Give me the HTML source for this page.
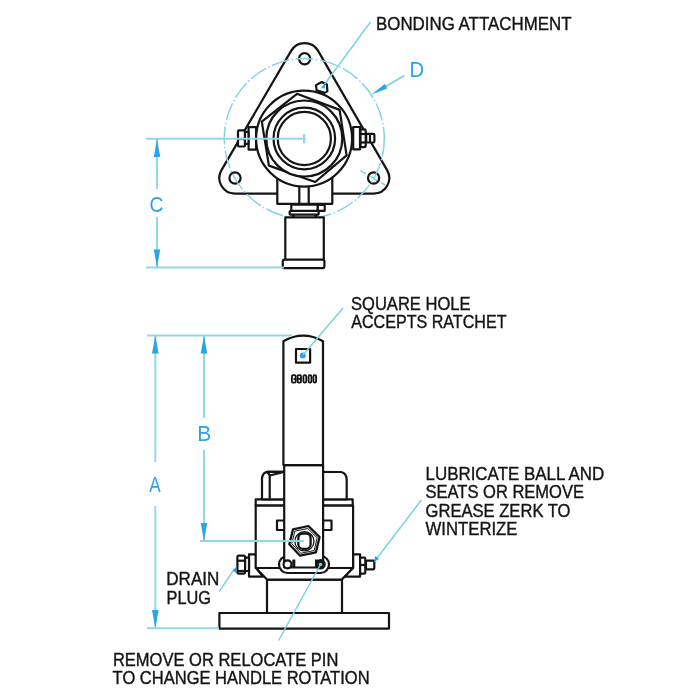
<!DOCTYPE html>
<html><head><meta charset="utf-8">
<style>
html,body{margin:0;padding:0;background:#fff;width:700px;height:700px;overflow:hidden}
svg{display:block;will-change:transform}
text{font-family:"Liberation Sans",sans-serif}
</style></head><body>
<svg width="700" height="700" viewBox="0 0 700 700">
<rect width="700" height="700" fill="#fff"/>

<!-- ============ TOP VIEW ============ -->
<g id="top" fill="#fff" stroke="#141414" stroke-width="2.2" stroke-linejoin="round">
  <!-- flange triangle with rounded corners (circle centres at holes, r=15.6) -->
  <path d="M291.1,50.9 A15.6,15.6 0 0 1 318.1,50.9 L387.1,170.1 A15.6,15.6 0 0 1 373.6,193.6 L235,193.6 A15.6,15.6 0 0 1 221.5,170.1 Z"/>
  <circle cx="304.6" cy="58.8" r="5.6"/>
  <circle cx="235" cy="178" r="5.6"/>
  <circle cx="373.6" cy="178" r="5.6"/>
</g>
<!-- dashed D circle -->
<circle cx="304.3" cy="138.6" r="80" fill="none" stroke="#86d4e2" stroke-width="1.5" stroke-dasharray="18 2.5 1.5 2.5"/>
<g stroke="#86d4e2" stroke-width="1.6" fill="none">
  <line x1="360.3" y1="170.6" x2="366" y2="173.9"/>
  <line x1="369.5" y1="175.9" x2="377.5" y2="180.5"/>
  <line x1="381" y1="182.6" x2="385.7" y2="185.4"/>
</g>
<g fill="#fff" stroke="#141414" stroke-width="2.2" stroke-linejoin="round">
  <!-- bonding tab -->
  <polygon points="316,85.1 321.7,82 326.9,84.6 327.4,91.4 324.6,92.9 316.6,90.3"/>
  <!-- bolts left -->
  <rect x="248.6" y="127.1" width="7.5" height="22.5"/>
  <rect x="244.9" y="131.9" width="3.6" height="12"/>
  <rect x="238" y="130.4" width="6.9" height="16.1" rx="1"/>
  <line x1="237.5" y1="139" x2="244.6" y2="139"/>
  <!-- bolts right -->
  <rect x="353.2" y="127" width="6.8" height="22.3"/>
  <rect x="360.5" y="129.3" width="5.2" height="17.8" rx="1.5"/>
  <line x1="360.5" y1="134" x2="365.7" y2="134"/>
  <line x1="360.5" y1="142.5" x2="365.7" y2="142.5"/>
  <rect x="366.2" y="133.9" width="8.2" height="8.6" rx="1"/>
  <line x1="370" y1="134" x2="370" y2="142.5"/>
  <!-- stem below -->
  <rect x="277.3" y="170" width="55" height="33.8"/>
  <line x1="299.3" y1="180" x2="299.3" y2="203.8"/>
  <line x1="308.7" y1="180" x2="308.7" y2="203.8"/>
  <!-- body circles -->
  <circle cx="304.1" cy="138.6" r="48"/>
  <polygon points="297,93.8 339.6,109.9 346.6,155.4 315.2,182 268.9,165.6 261.8,121.6"/>
  <circle cx="304.3" cy="138.5" r="38"/>
  <circle cx="304.3" cy="138.5" r="30.8"/>
  <circle cx="304.3" cy="138.5" r="26.6"/>
  <!-- lower stem parts -->
  <rect x="291.3" y="204.6" width="26.5" height="6.5"/>
  <rect x="317.8" y="205" width="6.9" height="5.8"/>
  <rect x="292" y="213" width="2.7" height="4.5" fill="#141414" stroke="none"/>
  <rect x="314.4" y="213" width="2.7" height="4.5" fill="#141414" stroke="none"/>
  <rect x="289.6" y="210.9" width="29.1" height="3.8" rx="1.5"/>
  <rect x="285.3" y="217.4" width="38.5" height="43"/>
  <rect x="282.8" y="259.6" width="41.6" height="8.6" rx="2"/>
</g>
<!-- center mark + C dimension -->
<g stroke="#96d6e4" stroke-width="2" fill="none">
  <line x1="146" y1="138.8" x2="306" y2="138.8"/>
  <line x1="304" y1="134" x2="304" y2="143.5"/>
  <line x1="146" y1="267.6" x2="284" y2="267.6"/>
  <line x1="157" y1="139" x2="157" y2="189"/>
  <line x1="157" y1="217" x2="157" y2="267"/>
</g>
<g stroke="#7ad2e0" stroke-width="1.5" fill="none">
  <line x1="370.5" y1="22" x2="321.5" y2="88.5"/>
  <line x1="404.5" y1="75.5" x2="384" y2="87.5"/>
</g>
<g fill="#2aa4e6">
  <polygon points="157,138.8 153.8,157 160.2,157"/>
  <polygon points="157,267.6 153.8,249.4 160.2,249.4"/>
  <polygon points="371.4,94.6 384.8,84.1 387.2,88.5"/>
  <polygon points="325.6,82.5 321.8,87.3 324.5,88.8"/>
</g>
<text transform="translate(149.5,211.8) scale(0.88,1)" font-size="22" fill="#2aa4e6">C</text>
<text transform="translate(409.5,76.5) scale(0.92,1)" font-size="22" fill="#2aa4e6">D</text>

<!-- ============ SIDE VIEW ============ -->
<g fill="#fff" stroke="#141414" stroke-width="2.2" stroke-linejoin="round">
  <!-- base plate + pedestal -->
  <rect x="219.4" y="613" width="169.6" height="15.6"/>
  <rect x="267" y="579.6" width="75" height="33.4"/>
  <!-- body lower chamfer band -->
  <path d="M255.8,568 L353.3,568 L341.7,579.6 L267,579.6 Z"/>
  <!-- bolt bosses -->
  <path d="M249,554.3 L256,554.3 L256,568 L263,576.6 L249,576.6 Z"/>
  <rect x="244.7" y="557.7" width="4.3" height="13.3"/>
  <rect x="237.4" y="555.6" width="7.7" height="18" rx="1.5"/>
  <line x1="237.4" y1="560.7" x2="245.1" y2="560.7"/>
  <line x1="237.4" y1="571" x2="245.1" y2="571"/>
  <path d="M353,554.3 L360.1,554.3 L360.1,576.6 L345,576.6 L353,568 Z"/>
  <rect x="360.1" y="557.7" width="5.2" height="15.9" rx="1"/>
  <line x1="360.1" y1="565" x2="365.3" y2="565"/>
  <rect x="366" y="560.7" width="8.3" height="8.6" rx="1"/>
  <!-- main body -->
  <rect x="255.7" y="505.4" width="97.4" height="62.6"/>
  <!-- band -->
  <rect x="255.7" y="499.4" width="97" height="6"/>
  <!-- upper body -->
  <path d="M262,499.4 L262,478 Q263,472 268,471.6 L341,472 Q346.7,473 346.7,480 L346.7,499.4 Z"/>
  <path d="M269.7,499.4 L269.7,475.5 Q268.5,472.5 266,472" fill="none"/>
  <path d="M269.7,475.5 L285,471.8" fill="none"/>
  <!-- tabs -->
  <rect x="277" y="520.5" width="8.5" height="9.5"/>
  <rect x="323" y="520.5" width="8.5" height="9.5"/>
  <!-- pin plate (behind handle) -->
  <path d="M287.5,556 L320.5,556 A8.5,8.5 0 0 1 320.5,573 L287.5,573 A8.5,8.5 0 0 1 287.5,556 Z"/>
  <!-- handle lower -->
  <rect x="284.2" y="465.1" width="38.9" height="102.4"/>
  <!-- handle upper with arched top -->
  <path d="M283.4,465.1 L283.4,341.3 Q303.2,330 323,341.3 L323,465.1 Z"/>
  <rect x="292.3" y="559.5" width="3" height="8" fill="#141414" stroke="none"/>
  <rect x="315" y="559.5" width="3" height="8" fill="#141414" stroke="none"/>
  <circle cx="287.5" cy="564.3" r="4"/>
  <circle cx="320.5" cy="564.3" r="4.2" fill="#141414"/>
  <!-- hex nut -->
  <polygon points="308.4,526 319.6,537.1 315.9,552.3 300.1,555.7 289.3,544.3 293,529.4" stroke-width="2.3"/>
  <polygon points="307.8,528.5 317.2,537.8 314.2,550.5 300.8,553.3 291.8,543.7 294.8,531.2" fill="none" stroke-width="1"/>
  <circle cx="304.4" cy="541.3" r="9.6" stroke-width="1.3"/>
  <rect x="298.3" y="533.5" width="12.3" height="15.3" rx="4.5" stroke-width="2.3"/>
  <!-- square hole -->
  <rect x="296" y="349" width="14.1" height="13.7"/>
</g>
<g fill="none" stroke="#141414" stroke-width="1.8">
  <rect x="291.9" y="375.2" width="3.8" height="7.4" rx="1.2"/>
  <line x1="293.6" y1="379" x2="295.7" y2="379"/>
  <rect x="297.6" y="375.2" width="3.4" height="7.4" rx="1"/>
  <line x1="297.6" y1="379" x2="301" y2="379"/>
  <rect x="303.4" y="375.2" width="2.9" height="7.4" rx="1.3"/>
  <rect x="308.6" y="375.2" width="2.8" height="7.4" rx="1.3"/>
  <rect x="313.4" y="375.2" width="2.7" height="7.4" rx="1.3"/>
</g>
<circle cx="302.8" cy="355.4" r="3" fill="#2a9ff0"/>
<circle cx="320.5" cy="564.5" r="1.8" fill="#6fcfe8"/>

<!-- dimension lines side view -->
<g stroke="#96d6e4" stroke-width="2" fill="none">
  <line x1="147" y1="335.4" x2="292" y2="335.4"/>
  <line x1="155.3" y1="336" x2="155.3" y2="462"/>
  <line x1="155.3" y1="506" x2="155.3" y2="627"/>
  <line x1="204" y1="336" x2="204" y2="418"/>
  <line x1="204" y1="450" x2="204" y2="540"/>
  <line x1="200" y1="541" x2="304" y2="541"/>
  <line x1="147" y1="628.2" x2="219" y2="628.2"/>
</g>
<g stroke="#7ad2e0" stroke-width="1.5" fill="none">
  <line x1="343" y1="308" x2="303" y2="355"/>
  <line x1="421.4" y1="500" x2="376" y2="559.5"/>
  <line x1="219.4" y1="591.3" x2="234" y2="569.5"/>
  <line x1="320.5" y1="564.5" x2="278.6" y2="640.5"/>
</g>
<g fill="#2aa4e6">
  <polygon points="155.3,335.4 152,353.6 158.6,353.6"/>
  <polygon points="204,335.4 200.7,353.6 207.3,353.6"/>
  <polygon points="204,541 200.7,523 207.3,523"/>
  <polygon points="155.3,628.2 152,610 158.6,610"/>
  <polygon points="373.8,562.4 375.3,556 379,558.8"/>
  <polygon points="236.8,566 232.6,570.6 236,572.8"/>
</g>
<text transform="translate(197.3,441.4) scale(0.95,1)" font-size="22" fill="#2aa4e6">B</text>
<text transform="translate(149.2,492.1) scale(0.78,1)" font-size="22" fill="#2aa4e6">A</text>

<!-- ============ LABELS ============ -->
<g font-size="19.2" fill="#141414" stroke="#141414" stroke-width="0.4">
  <text x="376" y="29.6" textLength="195.5" lengthAdjust="spacingAndGlyphs">BONDING ATTACHMENT</text>
  <text x="351" y="309.8" textLength="119.5" lengthAdjust="spacingAndGlyphs">SQUARE HOLE</text>
  <text x="351.2" y="328.2" textLength="155.3" lengthAdjust="spacingAndGlyphs">ACCEPTS RATCHET</text>
  <text x="425.5" y="479.6" textLength="178.8" lengthAdjust="spacingAndGlyphs">LUBRICATE BALL AND</text>
  <text x="425.5" y="498.2" textLength="158.5" lengthAdjust="spacingAndGlyphs">SEATS OR REMOVE</text>
  <text x="425.5" y="516.8" textLength="145" lengthAdjust="spacingAndGlyphs">GREASE ZERK TO</text>
  <text x="425.5" y="535.4" textLength="92" lengthAdjust="spacingAndGlyphs">WINTERIZE</text>
  <text x="166.3" y="585.2" textLength="53" lengthAdjust="spacingAndGlyphs">DRAIN</text>
  <text x="166.5" y="603.8" textLength="44.5" lengthAdjust="spacingAndGlyphs">PLUG</text>
  <text x="112.9" y="665.8" textLength="225.5" lengthAdjust="spacingAndGlyphs">REMOVE OR RELOCATE PIN</text>
  <text x="112.6" y="684.2" textLength="257" lengthAdjust="spacingAndGlyphs">TO CHANGE HANDLE ROTATION</text>
</g>
</svg>
</body></html>
